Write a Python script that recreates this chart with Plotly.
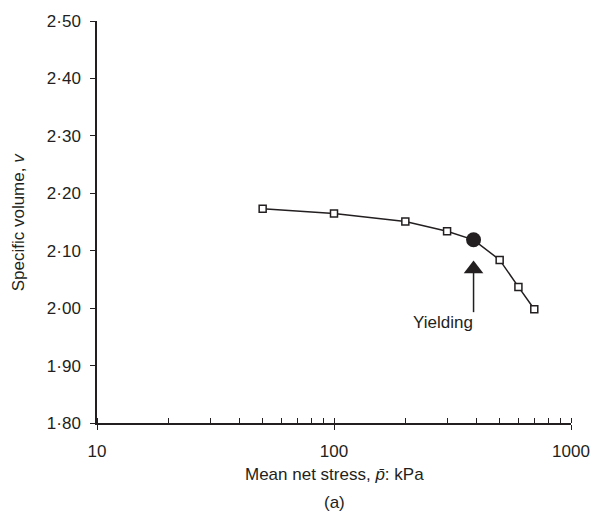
import numpy as np
import plotly.graph_objects as go

# Compression curve: mean net stress (kPa) vs specific volume
p_net = [50, 100, 200, 300, 388, 500, 600, 700]
v_spec = [2.173, 2.165, 2.151, 2.134, 2.119, 2.084, 2.037, 1.998]
yield_index = 4

x_ticks = [10, 100, 1000]
x_ticktext = ["10", "100", "1000"]
y_ticks = [1.80, 1.90, 2.00, 2.10, 2.20, 2.30, 2.40, 2.50]
y_ticktext = ["1·80", "1·90", "2·00", "2·10", "2·20", "2·30", "2·40", "2·50"]

# Yield marker arrow (head and shaft) and its label
arrow_p = 388
arrow_head_v = 2.068
arrow_tail_v = 1.993
label_p = 289
label_v = 1.975

INK = "#231f20"
FONT = "Liberation Sans, Arial, sans-serif"
FS = 17

fig = go.Figure()

# curve line
fig.add_trace(go.Scatter(
    x=p_net, y=v_spec, mode="lines",
    line=dict(color=INK, width=1.5), hoverinfo="skip", showlegend=False))

# open square data points
sq_p = [p for i, p in enumerate(p_net) if i != yield_index]
sq_v = [v for i, v in enumerate(v_spec) if i != yield_index]
fig.add_trace(go.Scatter(
    x=sq_p, y=sq_v, mode="markers",
    marker=dict(symbol="square", size=7, color="white",
                line=dict(color=INK, width=1.5)),
    showlegend=False))

# yield point
fig.add_trace(go.Scatter(
    x=[p_net[yield_index]], y=[v_spec[yield_index]], mode="markers",
    marker=dict(symbol="circle", size=15, color=INK, line=dict(width=0)),
    showlegend=False))

# arrow shaft
fig.add_trace(go.Scatter(
    x=[arrow_p, arrow_p], y=[arrow_tail_v, arrow_head_v], mode="lines",
    line=dict(color=INK, width=1.5), hoverinfo="skip", showlegend=False))

# arrow head
fig.add_trace(go.Scatter(
    x=[arrow_p], y=[arrow_head_v], mode="markers",
    marker=dict(symbol="triangle-up", size=17, color=INK, line=dict(width=0)),
    hoverinfo="skip", showlegend=False))

# overlay axis carrying the inward half of the major x ticks
fig.add_trace(go.Scatter(x=[10], y=[1.8], xaxis="x2", mode="markers",
                         marker=dict(opacity=0), hoverinfo="skip",
                         showlegend=False))

fig.add_annotation(
    x=np.log10(label_p), y=label_v, xref="x", yref="y",
    text="Yielding", showarrow=False,
    font=dict(family=FONT, size=FS, color=INK))

fig.add_annotation(
    x=0.5, y=-0.128, xref="paper", yref="paper",
    text="Mean net stress, <i>p̄</i>: kPa", showarrow=False,
    xanchor="center", yanchor="middle",
    font=dict(family=FONT, size=FS, color=INK))
fig.add_annotation(
    x=0.5, y=-0.197, xref="paper", yref="paper",
    text="(a)", showarrow=False, xanchor="center", yanchor="middle",
    font=dict(family=FONT, size=FS, color=INK))
fig.add_annotation(
    x=-0.166, y=0.5, xref="paper", yref="paper",
    text="Specific volume, <i>v</i>", showarrow=False, textangle=-90,
    xanchor="center", yanchor="middle",
    font=dict(family=FONT, size=FS, color=INK))

fig.update_layout(
    width=602, height=517,
    margin=dict(l=97, r=22, t=16, b=94),
    paper_bgcolor="white", plot_bgcolor="white",
    font=dict(family=FONT, size=FS, color=INK),
    showlegend=False,
    xaxis=dict(
        type="log", range=[1, 3],
        tickvals=x_ticks, ticktext=x_ticktext,
        tickfont=dict(family=FONT, size=FS, color=INK),
        ticks="outside", ticklen=5, tickwidth=1.3, tickcolor=INK,
        showline=True, linecolor=INK, linewidth=1.5,
        showgrid=False, zeroline=False,
        ticklabelstandoff=7,
        minor=dict(ticks="inside", ticklen=5, tickwidth=1.3,
                   tickcolor=INK, showgrid=False, dtick="D1"),
    ),
    xaxis2=dict(
        type="log", range=[1, 3], overlaying="x", side="bottom",
        anchor="y", tickvals=x_ticks, showticklabels=False,
        ticks="inside", ticklen=5, tickwidth=1.3, tickcolor=INK,
        showline=False, showgrid=False, zeroline=False,
    ),
    yaxis=dict(
        range=[1.8, 2.5],
        tickvals=y_ticks, ticktext=y_ticktext,
        tickfont=dict(family=FONT, size=FS, color=INK),
        ticks="outside", ticklen=5, tickwidth=1.3, tickcolor=INK,
        showline=True, linecolor=INK, linewidth=1.5,
        showgrid=False, zeroline=False,
        ticklabelstandoff=6,
    ),
)

fig.write_html("out.html")
